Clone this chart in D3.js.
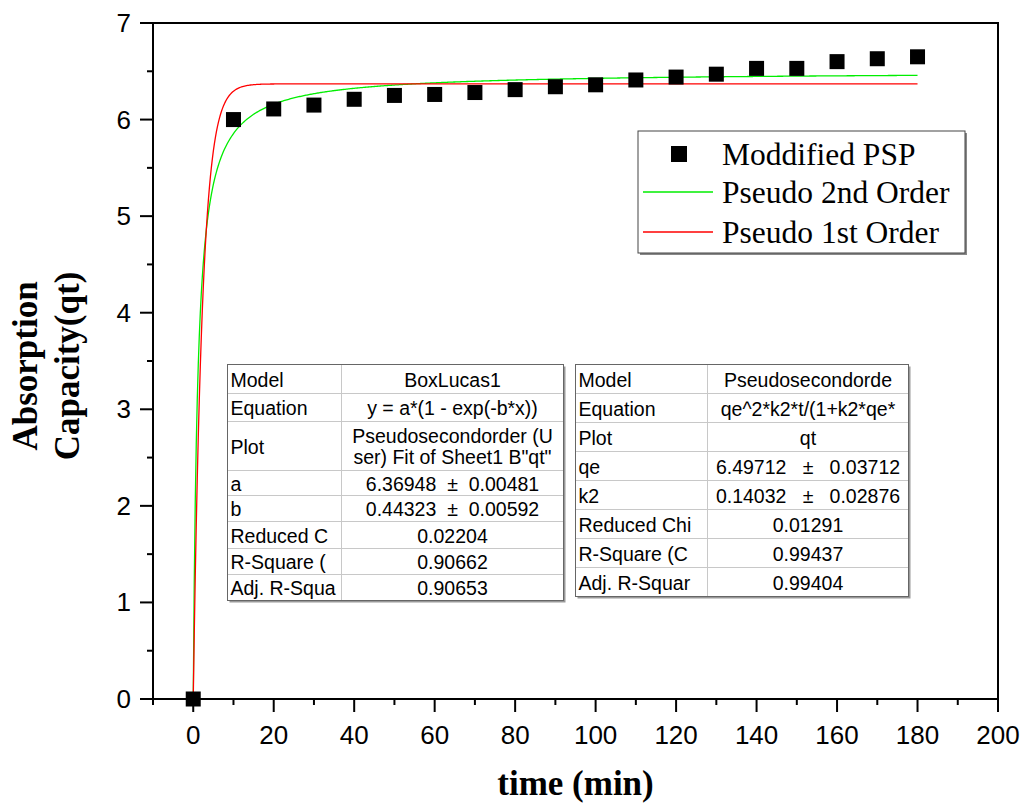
<!DOCTYPE html>
<html>
<head>
<meta charset="utf-8">
<script src="https://cdn.jsdelivr.net/npm/d3@7"></script>
<style>
  body { margin: 0; background: #fff; }
  svg { display: block; }
  text { white-space: pre; }
</style>
</head>
<body>
<div id="chart"></div>
<script>
// measured points
const timeMin = [0, 10, 20, 30, 40, 50, 60, 70, 80, 90, 100, 110, 120, 130, 140, 150, 160, 170, 180];
const qtObserved = [0, 6.00, 6.11, 6.15, 6.21, 6.25, 6.26, 6.28, 6.31, 6.34, 6.36, 6.41, 6.44, 6.47, 6.53, 6.53, 6.60, 6.63, 6.65];

// fitted parameters (from the tables)
const firstOrderParams = { a: 6.36948, b: 0.44323 };
const secondOrderParams = { qe: 6.49712, k2: 0.14032 };

const xTicks = [0, 20, 40, 60, 80, 100, 120, 140, 160, 180, 200];
const yTicks = [0, 1, 2, 3, 4, 5, 6, 7];

const legendLabels = ['Moddified PSP', 'Pseudo 2nd Order', 'Pseudo 1st Order'];

const table1Rows = [
    ['Model', ['BoxLucas1']],
    ['Equation', ['y = a*(1 - exp(-b*x))']],
    ['Plot', ['Pseudosecondorder (U', 'ser) Fit of Sheet1 B"qt"']],
    ['a', ['6.36948  \u00b1  0.00481']],
    ['b', ['0.44323  \u00b1  0.00592']],
    ['Reduced C', ['0.02204']],
    ['R-Square (', ['0.90662']],
    ['Adj. R-Squa', ['0.90653']]
];
const table2Rows = [
    ['Model', ['Pseudosecondorde']],
    ['Equation', ['qe^2*k2*t/(1+k2*qe*']],
    ['Plot', ['qt']],
    ['qe', ['6.49712   \u00b1   0.03712']],
    ['k2', ['0.14032   \u00b1   0.02876']],
    ['Reduced Chi', ['0.01291']],
    ['R-Square (C', ['0.99437']],
    ['Adj. R-Squar', ['0.99404']]
];

const width = 1028;
const height = 806;
const plot = { left: 153, right: 998, top: 23, bottom: 699 };
const sans = '"Liberation Sans", Arial, sans-serif';
const serif = '"Liberation Serif", "Times New Roman", serif';

const svg = d3.select('#chart')
    .append('svg')
    .attr('width', width)
    .attr('height', height);

const x = d3.scaleLinear().domain([-10, 200]).range([plot.left, plot.right]);
const y = d3.scaleLinear().domain([0, 7]).range([plot.bottom, plot.top]);

// frame
svg.append('rect')
    .attr('x', plot.left).attr('y', plot.top)
    .attr('width', plot.right - plot.left).attr('height', plot.bottom - plot.top)
    .attr('fill', 'none').attr('stroke', '#000').attr('stroke-width', 2);

// x axis
const xMinor = d3.range(-10, 201, 10);
const xAxis = svg.append('g').attr('transform', `translate(0,${plot.bottom})`);
xAxis.selectAll('line').data(xMinor).enter().append('line')
    .attr('x1', d => x(d)).attr('x2', d => x(d))
    .attr('y1', 0).attr('y2', d => xTicks.includes(d) ? 13 : 6)
    .attr('stroke', '#000').attr('stroke-width', 2);
xAxis.selectAll('text').data(xTicks).enter().append('text')
    .attr('x', d => x(d)).attr('y', 45)
    .attr('text-anchor', 'middle')
    .style('font-family', sans)
    .style('font-size', '26px')
    .text(d => d);

// y axis
const yMinor = d3.range(0, 7.01, 0.5);
const yAxis = svg.append('g').attr('transform', `translate(${plot.left},0)`);
yAxis.selectAll('line').data(yMinor).enter().append('line')
    .attr('y1', d => y(d)).attr('y2', d => y(d))
    .attr('x1', 0).attr('x2', d => Number.isInteger(d) ? -13 : -6)
    .attr('stroke', '#000').attr('stroke-width', 2);
yAxis.selectAll('text').data(yTicks).enter().append('text')
    .attr('x', -22).attr('y', d => y(d) + 9)
    .attr('text-anchor', 'end')
    .style('font-family', sans)
    .style('font-size', '26px')
    .text(d => d);

// axis titles
svg.append('text')
    .attr('x', (plot.left + plot.right) / 2).attr('y', 795)
    .attr('text-anchor', 'middle')
    .style('font-family', serif)
    .style('font-weight', 'bold').style('font-size', '35px')
    .text('time (min)');

const yTitle = svg.append('text')
    .attr('transform', 'translate(0,366) rotate(-90)')
    .attr('text-anchor', 'middle')
    .style('font-family', serif)
    .style('font-weight', 'bold').style('font-size', '35px');
yTitle.append('tspan').attr('x', 0).attr('y', 37).text('Absorption');
yTitle.append('tspan').attr('x', 0).attr('y', 79).text('Capacity(qt)');

// fitted curves
const tSamples = d3.range(0, 180.01, 0.25);
const firstOrder = t => firstOrderParams.a * (1 - Math.exp(-firstOrderParams.b * t));
const secondOrder = t => {
    const { qe, k2 } = secondOrderParams;
    return qe * qe * k2 * t / (1 + k2 * qe * t);
};
const line = d3.line().x(d => x(d[0])).y(d => y(d[1]));

svg.append('path')
    .datum(tSamples.map(t => [t, secondOrder(t)]))
    .attr('d', line)
    .attr('fill', 'none').attr('stroke', '#00ee00').attr('stroke-width', 1.3);
svg.append('path')
    .datum(tSamples.map(t => [t, firstOrder(t)]))
    .attr('d', line)
    .attr('fill', 'none').attr('stroke', '#ff0000').attr('stroke-width', 1.3);

// points
const sq = 15;
svg.selectAll('rect.pt')
    .data(timeMin.map((t, i) => [t, qtObserved[i]]))
    .enter().append('rect')
    .attr('class', 'pt')
    .attr('x', d => x(d[0]) - sq / 2)
    .attr('y', d => y(d[1]) - sq / 2)
    .attr('width', sq).attr('height', sq)
    .attr('fill', '#000');

// legend
const lg = svg.append('g');
lg.append('rect').attr('x', 640).attr('y', 133).attr('width', 327).attr('height', 122).attr('fill', '#888');
lg.append('rect').attr('x', 638).attr('y', 131).attr('width', 327).attr('height', 122)
    .attr('fill', '#fff').attr('stroke', '#444').attr('stroke-width', 1);
const legendY = [154, 192, 232];
lg.append('rect').attr('x', 679 - 8).attr('y', legendY[0] - 8).attr('width', 16).attr('height', 16).attr('fill', '#000');
lg.append('line').attr('x1', 643).attr('x2', 713).attr('y1', legendY[1]).attr('y2', legendY[1])
    .attr('stroke', '#00ee00').attr('stroke-width', 1.3);
lg.append('line').attr('x1', 643).attr('x2', 713).attr('y1', legendY[2]).attr('y2', legendY[2])
    .attr('stroke', '#ff0000').attr('stroke-width', 1.3);
lg.selectAll('text').data(legendLabels).enter().append('text')
    .attr('x', 722).attr('y', (d, i) => legendY[i] + 11)
    .style('font-family', serif)
    .style('font-size', '31.5px')
    .text(d => d);

// parameter tables
function drawTable(rows, left, top, colSplit, right, rowHeights) {
    const g = svg.append('g');
    const total = d3.sum(rowHeights);
    g.append('rect').attr('x', left + 2).attr('y', top + 2)
        .attr('width', right - left).attr('height', total).attr('fill', '#999');
    g.append('rect').attr('x', left).attr('y', top)
        .attr('width', right - left).attr('height', total)
        .attr('fill', '#fff');
    let yy = top;
    rows.forEach((row, i) => {
        const h = rowHeights[i];
        if (i > 0) {
            g.append('line').attr('x1', left).attr('x2', right).attr('y1', yy).attr('y2', yy)
                .attr('stroke', '#c8c8c8').attr('stroke-width', 1);
        }
        g.append('text')
            .attr('x', left + 3).attr('y', yy + h / 2 + 7.5)
            .style('font-family', sans)
            .style('font-size', '19.5px')
            .text(row[0]);
        const n = row[1].length;
        row[1].forEach((s, j) => {
            g.append('text')
                .attr('x', (colSplit + right) / 2)
                .attr('y', yy + h / 2 + 7.5 + (j - (n - 1) / 2) * 21)
                .attr('text-anchor', 'middle')
                .style('font-family', sans)
                .style('font-size', '19.5px')
                .text(s);
        });
        yy += h;
    });
    g.append('line').attr('x1', colSplit).attr('x2', colSplit).attr('y1', top).attr('y2', top + total)
        .attr('stroke', '#c8c8c8').attr('stroke-width', 1);
    g.append('rect').attr('x', left).attr('y', top)
        .attr('width', right - left).attr('height', total)
        .attr('fill', 'none').attr('stroke', '#666').attr('stroke-width', 1);
}

drawTable(table1Rows, 227.5, 364.5, 341.5, 563.5, [29, 28, 49, 25, 26, 27, 26, 26]);
drawTable(table2Rows, 575.5, 364.5, 707.5, 908.5, [29, 29, 29, 29, 29, 29, 29, 29]);
</script>
</body>
</html>
